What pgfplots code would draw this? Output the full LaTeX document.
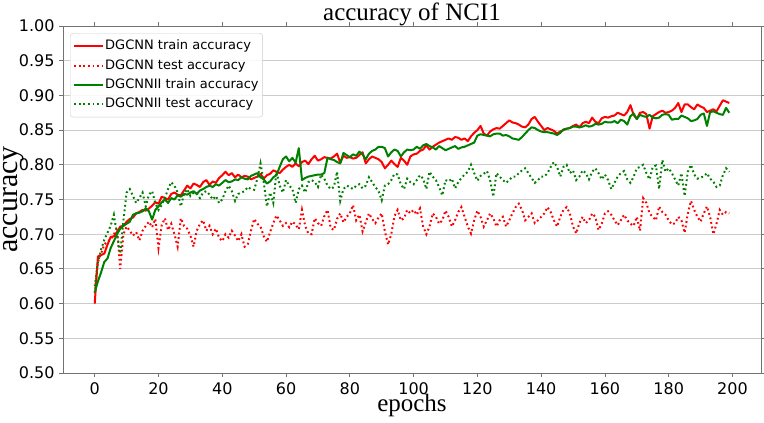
\documentclass[border=0pt]{standalone}
\usepackage{fontspec}
\setmainfont{Liberation Serif}
\newfontfamily\dejavu{DejaVu Sans}
\usepackage{pgfplots}
\usepackage{pgfplotstable}
\pgfplotsset{compat=1.18}
\definecolor{mplgreen}{rgb}{0,0.5,0}
\definecolor{mplred}{rgb}{1,0,0}

\pgfplotstableread[row sep=\\]{y\\
0.600\\ 0.668\\ 0.670\\ 0.672\\ 0.685\\ 0.696\\ 0.697\\ 0.703\\ 0.711\\ 0.712\\
0.718\\ 0.722\\ 0.724\\ 0.730\\ 0.732\\ 0.735\\ 0.734\\ 0.737\\ 0.741\\ 0.746\\
0.744\\ 0.754\\ 0.752\\ 0.750\\ 0.758\\ 0.760\\ 0.757\\ 0.756\\ 0.763\\ 0.770\\
0.766\\ 0.773\\ 0.771\\ 0.768\\ 0.775\\ 0.778\\ 0.771\\ 0.776\\ 0.774\\ 0.781\\
0.785\\ 0.790\\ 0.785\\ 0.788\\ 0.782\\ 0.786\\ 0.782\\ 0.784\\ 0.783\\ 0.779\\
0.781\\ 0.783\\ 0.787\\ 0.780\\ 0.785\\ 0.787\\ 0.792\\ 0.790\\ 0.788\\ 0.793\\
0.797\\ 0.800\\ 0.797\\ 0.802\\ 0.798\\ 0.804\\ 0.806\\ 0.801\\ 0.808\\ 0.813\\
0.806\\ 0.808\\ 0.811\\ 0.810\\ 0.809\\ 0.812\\ 0.816\\ 0.803\\ 0.813\\ 0.810\\
0.811\\ 0.809\\ 0.810\\ 0.814\\ 0.818\\ 0.802\\ 0.808\\ 0.812\\ 0.810\\ 0.808\\
0.804\\ 0.795\\ 0.800\\ 0.806\\ 0.801\\ 0.797\\ 0.810\\ 0.806\\ 0.800\\ 0.812\\
0.815\\ 0.816\\ 0.820\\ 0.822\\ 0.828\\ 0.822\\ 0.826\\ 0.829\\ 0.832\\ 0.834\\
0.836\\ 0.838\\ 0.836\\ 0.840\\ 0.839\\ 0.836\\ 0.838\\ 0.834\\ 0.841\\ 0.846\\
0.850\\ 0.856\\ 0.845\\ 0.842\\ 0.848\\ 0.851\\ 0.853\\ 0.852\\ 0.856\\ 0.860\\
0.864\\ 0.861\\ 0.860\\ 0.858\\ 0.855\\ 0.854\\ 0.858\\ 0.866\\ 0.869\\ 0.862\\
0.856\\ 0.850\\ 0.853\\ 0.851\\ 0.849\\ 0.845\\ 0.848\\ 0.850\\ 0.852\\ 0.853\\
0.856\\ 0.858\\ 0.854\\ 0.860\\ 0.862\\ 0.860\\ 0.868\\ 0.862\\ 0.860\\ 0.867\\
0.869\\ 0.868\\ 0.870\\ 0.871\\ 0.875\\ 0.873\\ 0.871\\ 0.876\\ 0.886\\ 0.872\\
0.866\\ 0.875\\ 0.876\\ 0.873\\ 0.852\\ 0.870\\ 0.873\\ 0.876\\ 0.878\\ 0.875\\
0.876\\ 0.878\\ 0.882\\ 0.889\\ 0.876\\ 0.887\\ 0.887\\ 0.883\\ 0.880\\ 0.887\\
0.884\\ 0.882\\ 0.876\\ 0.878\\ 0.880\\ 0.877\\ 0.885\\ 0.893\\ 0.891\\ 0.889\\
}\trainA

\pgfplotstableread[row sep=\\]{y\\
0.615\\ 0.660\\ 0.672\\ 0.685\\ 0.690\\ 0.692\\ 0.700\\ 0.708\\ 0.650\\ 0.700\\
0.711\\ 0.705\\ 0.698\\ 0.703\\ 0.691\\ 0.705\\ 0.712\\ 0.718\\ 0.710\\ 0.722\\
0.680\\ 0.713\\ 0.723\\ 0.706\\ 0.715\\ 0.700\\ 0.682\\ 0.723\\ 0.712\\ 0.708\\
0.698\\ 0.682\\ 0.705\\ 0.715\\ 0.720\\ 0.705\\ 0.712\\ 0.700\\ 0.708\\ 0.695\\
0.690\\ 0.700\\ 0.695\\ 0.705\\ 0.698\\ 0.690\\ 0.700\\ 0.682\\ 0.685\\ 0.705\\
0.722\\ 0.715\\ 0.711\\ 0.697\\ 0.689\\ 0.703\\ 0.716\\ 0.727\\ 0.720\\ 0.712\\
0.716\\ 0.710\\ 0.718\\ 0.714\\ 0.707\\ 0.735\\ 0.712\\ 0.701\\ 0.700\\ 0.723\\
0.716\\ 0.712\\ 0.726\\ 0.735\\ 0.709\\ 0.706\\ 0.722\\ 0.730\\ 0.717\\ 0.725\\
0.730\\ 0.742\\ 0.720\\ 0.728\\ 0.704\\ 0.717\\ 0.730\\ 0.722\\ 0.716\\ 0.724\\
0.730\\ 0.704\\ 0.685\\ 0.700\\ 0.726\\ 0.735\\ 0.720\\ 0.723\\ 0.735\\ 0.730\\
0.735\\ 0.728\\ 0.737\\ 0.711\\ 0.700\\ 0.711\\ 0.730\\ 0.725\\ 0.715\\ 0.720\\
0.734\\ 0.725\\ 0.711\\ 0.720\\ 0.732\\ 0.739\\ 0.725\\ 0.711\\ 0.701\\ 0.720\\
0.734\\ 0.725\\ 0.711\\ 0.720\\ 0.730\\ 0.723\\ 0.711\\ 0.720\\ 0.725\\ 0.711\\
0.720\\ 0.730\\ 0.739\\ 0.744\\ 0.735\\ 0.720\\ 0.725\\ 0.730\\ 0.716\\ 0.720\\
0.725\\ 0.730\\ 0.739\\ 0.732\\ 0.720\\ 0.711\\ 0.725\\ 0.735\\ 0.739\\ 0.730\\
0.711\\ 0.701\\ 0.716\\ 0.725\\ 0.716\\ 0.720\\ 0.730\\ 0.725\\ 0.706\\ 0.715\\
0.730\\ 0.733\\ 0.728\\ 0.720\\ 0.713\\ 0.720\\ 0.728\\ 0.720\\ 0.715\\ 0.712\\
0.725\\ 0.705\\ 0.752\\ 0.745\\ 0.730\\ 0.725\\ 0.720\\ 0.740\\ 0.732\\ 0.728\\
0.720\\ 0.714\\ 0.716\\ 0.725\\ 0.720\\ 0.702\\ 0.730\\ 0.748\\ 0.735\\ 0.725\\
0.718\\ 0.730\\ 0.740\\ 0.725\\ 0.700\\ 0.715\\ 0.735\\ 0.728\\ 0.732\\ 0.730\\
}\testA

\pgfplotstableread[row sep=\\]{y\\
0.616\\ 0.632\\ 0.645\\ 0.660\\ 0.665\\ 0.680\\ 0.690\\ 0.700\\ 0.708\\ 0.712\\
0.715\\ 0.718\\ 0.728\\ 0.730\\ 0.731\\ 0.733\\ 0.737\\ 0.733\\ 0.721\\ 0.735\\
0.740\\ 0.746\\ 0.750\\ 0.745\\ 0.752\\ 0.750\\ 0.756\\ 0.754\\ 0.758\\ 0.757\\
0.760\\ 0.762\\ 0.758\\ 0.763\\ 0.765\\ 0.768\\ 0.770\\ 0.768\\ 0.772\\ 0.770\\
0.774\\ 0.778\\ 0.775\\ 0.776\\ 0.779\\ 0.778\\ 0.782\\ 0.780\\ 0.779\\ 0.784\\
0.786\\ 0.788\\ 0.782\\ 0.779\\ 0.773\\ 0.776\\ 0.782\\ 0.785\\ 0.797\\ 0.808\\
0.812\\ 0.805\\ 0.810\\ 0.803\\ 0.824\\ 0.778\\ 0.781\\ 0.783\\ 0.784\\ 0.785\\
0.786\\ 0.786\\ 0.788\\ 0.810\\ 0.808\\ 0.807\\ 0.804\\ 0.802\\ 0.817\\ 0.814\\
0.811\\ 0.815\\ 0.813\\ 0.819\\ 0.815\\ 0.808\\ 0.816\\ 0.820\\ 0.822\\ 0.826\\
0.826\\ 0.824\\ 0.812\\ 0.818\\ 0.822\\ 0.820\\ 0.812\\ 0.818\\ 0.822\\ 0.821\\
0.822\\ 0.826\\ 0.823\\ 0.828\\ 0.830\\ 0.827\\ 0.825\\ 0.822\\ 0.827\\ 0.824\\
0.821\\ 0.823\\ 0.825\\ 0.827\\ 0.823\\ 0.825\\ 0.826\\ 0.828\\ 0.830\\ 0.832\\
0.842\\ 0.844\\ 0.843\\ 0.842\\ 0.841\\ 0.844\\ 0.845\\ 0.845\\ 0.842\\ 0.843\\
0.841\\ 0.838\\ 0.837\\ 0.836\\ 0.840\\ 0.845\\ 0.850\\ 0.854\\ 0.853\\ 0.850\\
0.848\\ 0.847\\ 0.847\\ 0.846\\ 0.845\\ 0.843\\ 0.846\\ 0.851\\ 0.852\\ 0.853\\
0.855\\ 0.855\\ 0.854\\ 0.855\\ 0.857\\ 0.855\\ 0.856\\ 0.859\\ 0.858\\ 0.859\\
0.862\\ 0.861\\ 0.861\\ 0.863\\ 0.860\\ 0.865\\ 0.863\\ 0.858\\ 0.870\\ 0.874\\
0.866\\ 0.872\\ 0.870\\ 0.869\\ 0.872\\ 0.868\\ 0.867\\ 0.868\\ 0.872\\ 0.873\\
0.872\\ 0.865\\ 0.866\\ 0.866\\ 0.871\\ 0.869\\ 0.867\\ 0.863\\ 0.864\\ 0.866\\
0.872\\ 0.874\\ 0.856\\ 0.876\\ 0.877\\ 0.875\\ 0.873\\ 0.872\\ 0.882\\ 0.875\\
}\trainB

\pgfplotstableread[row sep=\\]{y\\
0.625\\ 0.660\\ 0.678\\ 0.692\\ 0.702\\ 0.712\\ 0.728\\ 0.700\\ 0.672\\ 0.720\\
0.760\\ 0.765\\ 0.755\\ 0.745\\ 0.752\\ 0.760\\ 0.740\\ 0.757\\ 0.762\\ 0.745\\
0.735\\ 0.742\\ 0.752\\ 0.765\\ 0.775\\ 0.770\\ 0.760\\ 0.740\\ 0.758\\ 0.765\\
0.755\\ 0.760\\ 0.758\\ 0.752\\ 0.760\\ 0.762\\ 0.757\\ 0.750\\ 0.755\\ 0.745\\
0.750\\ 0.762\\ 0.770\\ 0.762\\ 0.748\\ 0.758\\ 0.760\\ 0.762\\ 0.768\\ 0.765\\
0.764\\ 0.780\\ 0.802\\ 0.775\\ 0.740\\ 0.760\\ 0.745\\ 0.790\\ 0.770\\ 0.760\\
0.778\\ 0.770\\ 0.765\\ 0.745\\ 0.765\\ 0.770\\ 0.760\\ 0.775\\ 0.778\\ 0.775\\
0.768\\ 0.786\\ 0.780\\ 0.770\\ 0.765\\ 0.768\\ 0.790\\ 0.748\\ 0.765\\ 0.770\\
0.768\\ 0.765\\ 0.770\\ 0.772\\ 0.766\\ 0.770\\ 0.782\\ 0.775\\ 0.768\\ 0.762\\
0.749\\ 0.770\\ 0.772\\ 0.778\\ 0.787\\ 0.786\\ 0.772\\ 0.765\\ 0.780\\ 0.775\\
0.772\\ 0.778\\ 0.785\\ 0.780\\ 0.765\\ 0.790\\ 0.783\\ 0.778\\ 0.768\\ 0.756\\
0.778\\ 0.776\\ 0.780\\ 0.766\\ 0.775\\ 0.781\\ 0.786\\ 0.790\\ 0.800\\ 0.788\\
0.777\\ 0.784\\ 0.787\\ 0.791\\ 0.778\\ 0.754\\ 0.788\\ 0.783\\ 0.778\\ 0.774\\
0.778\\ 0.783\\ 0.783\\ 0.788\\ 0.792\\ 0.795\\ 0.788\\ 0.781\\ 0.774\\ 0.778\\
0.783\\ 0.783\\ 0.788\\ 0.797\\ 0.804\\ 0.797\\ 0.783\\ 0.797\\ 0.800\\ 0.788\\
0.792\\ 0.778\\ 0.783\\ 0.792\\ 0.788\\ 0.779\\ 0.790\\ 0.795\\ 0.788\\ 0.779\\
0.786\\ 0.778\\ 0.765\\ 0.774\\ 0.783\\ 0.788\\ 0.791\\ 0.779\\ 0.774\\ 0.783\\
0.795\\ 0.797\\ 0.800\\ 0.788\\ 0.779\\ 0.797\\ 0.799\\ 0.765\\ 0.807\\ 0.790\\
0.795\\ 0.788\\ 0.779\\ 0.770\\ 0.788\\ 0.755\\ 0.790\\ 0.800\\ 0.786\\ 0.780\\
0.782\\ 0.783\\ 0.788\\ 0.780\\ 0.776\\ 0.768\\ 0.770\\ 0.785\\ 0.795\\ 0.790\\
}\testB

\begin{document}
\begin{tikzpicture}
\path[use as bounding box] (0pt,0pt) rectangle (764pt,423pt);
\begin{axis}[
  at={(63pt,50pt)}, anchor=south west,
  scale only axis, width=698pt, height=347pt,
  xmin=-9.95, xmax=208.95, ymin=0.5, ymax=1.0,
  xtick={0,20,...,200},
  ytick={0.50,0.55,...,1.001},
  /pgf/number format/assume math mode=true,
  yticklabel style={/pgf/number format/fixed, /pgf/number format/fixed zerofill, /pgf/number format/precision=2, xshift=-1pt},
  ticklabel style={font=\dejavu\fontsize{16}{16}\selectfont},
  xticklabel style={yshift=-2pt},
  tick align=outside,
  major tick length=4pt,
  tick style={black!55, line width=0.8pt},
  axis line style={black!55, line width=0.9pt},
  ymajorgrids, grid style={black!20, line width=0.9pt},
  title={accuracy of NCI1},
  title style={font=\fontsize{25}{25}\selectfont, at={(axis description cs:0.5,1)}, anchor=base, yshift=-0.5pt, inner sep=0pt},
  xlabel={epochs},
  xlabel style={font=\fontsize{25}{25}\selectfont, at={(axis description cs:0.5,0)}, anchor=base, yshift=-39pt, inner sep=0pt},
  ylabel={accuracy},
  ylabel style={font=\fontsize{30}{30}\selectfont, at={([xshift=-45pt]axis description cs:0,0.5)}, anchor=base, inner sep=0pt},
  legend cell align=left,
  legend style={at={(axis description cs:0,1)}, anchor=north west, xshift=7pt, yshift=-7pt,
    font=\dejavu\fontsize{13}{13}\selectfont, draw=black!20, rounded corners=3pt,
    fill=white, fill opacity=0.85, text opacity=1, inner xsep=3pt, inner ysep=6pt,
    row sep=5.3pt, nodes={inner sep=1pt, text height=9.5pt, text depth=2.5pt}},
  legend image code/.code={\draw[#1] (0pt,0pt) -- (29pt,0pt);},
  /tikz/every even column/.append style={column sep=8pt},
]
\addplot[mplred, line width=2pt, line join=round] table[x expr=\coordindex, y=y] {\trainA};
\addlegendentry{DGCNN train accuracy}
\addplot[mplred, line width=2pt, dash pattern=on 1.8pt off 2.8pt] table[x expr=\coordindex, y=y] {\testA};
\addlegendentry{DGCNN test accuracy}
\addplot[mplgreen, line width=2pt, line join=round] table[x expr=\coordindex, y=y] {\trainB};
\addlegendentry{DGCNNII train accuracy}
\addplot[mplgreen, line width=2pt, dash pattern=on 1.8pt off 2.8pt] table[x expr=\coordindex, y=y] {\testB};
\addlegendentry{DGCNNII test accuracy}
\end{axis}
\end{tikzpicture}
\end{document}
